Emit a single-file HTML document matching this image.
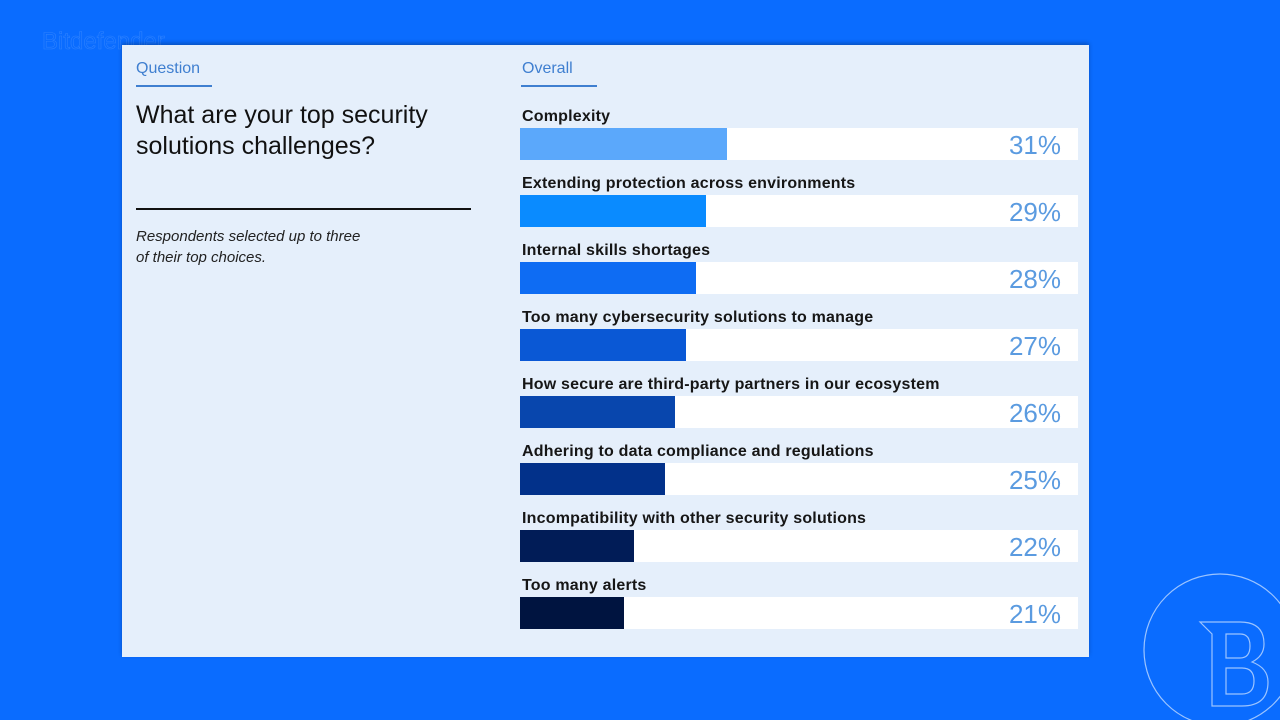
<!DOCTYPE html>
<html><head><meta charset="utf-8"><style>
body{margin:0;width:1280px;height:720px;background:#0a6cff;position:relative;overflow:hidden;font-family:"Liberation Sans",sans-serif}
.card{position:absolute;left:122px;top:45px;width:967px;height:612px;background:#e5effb;box-shadow:0 -2px 4px rgba(0,0,0,.25)}
.abs{position:absolute}
</style></head><body>
<div class="abs" style="left:42px;top:28px;font-size:24px;color:#1a76ff;-webkit-text-stroke:0.6px #2e82ff;color:transparent">Bitdefender</div>
<div class="card">
<div class="abs" style="left:14px;top:15px;font-size:16px;color:#3f7fd0">Question</div>
<div class="abs" style="left:14px;top:40px;width:76px;height:2px;background:#3f7fd0"></div>
<div class="abs" style="left:14px;top:55px;font-size:25px;line-height:31px;color:#111">What are your top security<br>solutions challenges?</div>
<div class="abs" style="left:14px;top:163px;width:335px;height:2px;background:#111"></div>
<div class="abs" style="left:14px;top:181px;font-size:15px;line-height:21px;font-style:italic;color:#222">Respondents selected up to three<br>of their top choices.</div>
<div class="abs" style="left:400px;top:15px;font-size:16px;color:#3f7fd0">Overall</div>
<div class="abs" style="left:399px;top:40px;width:76px;height:2px;background:#3f7fd0"></div>
<div id="rows"></div>
</div>
<svg class="abs" style="left:1140px;top:570px" width="140" height="150" viewBox="0 0 140 150">
<circle cx="80" cy="80" r="76" fill="none" stroke="#9cc4ff" stroke-width="1.2"/>
<path d="M60 52 H100 Q124 52 124 74 Q124 86 112 92 Q128 98 128 112 Q128 136 102 136 H72 V64 Z M86 64 V88 H100 Q110 88 110 76 Q110 64 100 64 Z M86 98 V124 H102 Q114 124 114 111 Q114 98 102 98 Z" fill="none" stroke="#9cc4ff" stroke-width="1.2"/>
</svg>
<script>
const categories=["Complexity","Extending protection across environments","Internal skills shortages","Too many cybersecurity solutions to manage","How secure are third-party partners in our ecosystem","Adhering to data compliance and regulations","Incompatibility with other security solutions","Too many alerts"];
const values=[31,29,28,27,26,25,22,21];
const colors=["#5ba8fb","#0a8bff","#0e6cf3","#0a58d5","#0846ad","#02318a","#011c57","#001440"];
const x=v=>(v-11)*(207/20);
const rows=document.getElementById('rows');
categories.forEach((c,i)=>{
 const top=60+i*67;
 const l=document.createElement('div');
 
 
 l.className='abs';l.style.cssText=`left:400px;top:${top+3}px;font-size:16px;font-weight:bold;color:#161616;letter-spacing:.2px`;
 l.textContent=c;rows.appendChild(l);
 const t=document.createElement('div');
 
 
 t.className='abs';t.style.cssText=`left:398px;top:${top+23}px;width:558px;height:32px;background:#fff`;
 rows.appendChild(t);
 const b=document.createElement('div');
 
 
 b.className='abs';b.style.cssText=`left:398px;top:${top+23}px;width:${x(values[i])}px;height:32px;background:${colors[i]}`;
 rows.appendChild(b);
 const p=document.createElement('div');
 
 
 p.className='abs';p.style.cssText=`right:28px;top:${top+24}px;font-size:26px;line-height:32px;color:#5b9be0`;
 p.textContent=values[i]+'%';rows.appendChild(p);
});
</script>
</body></html>
